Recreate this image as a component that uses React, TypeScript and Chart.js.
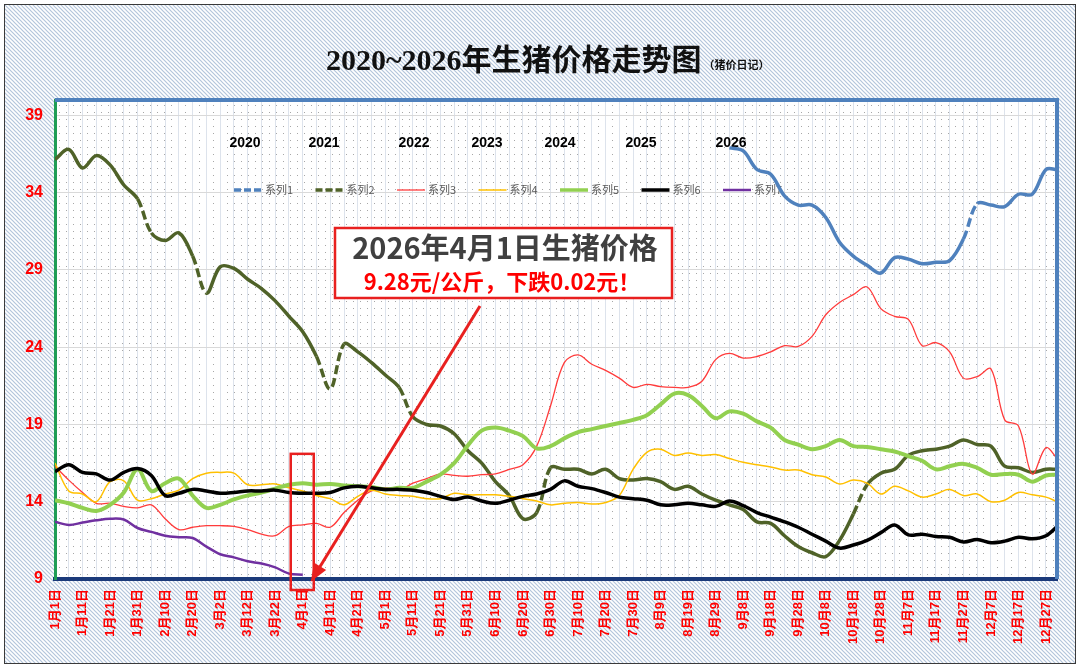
import { useEffect, useRef } from "react";
import { Chart, registerables } from "chart.js";

Chart.register(...registerables);

// x tick labels, one per 10 days
const tickLabels = [
  "1月1日", "1月11日", "1月21日", "1月31日", "2月10日", "2月20日", "3月2日", "3月12日",
  "3月22日", "4月1日", "4月11日", "4月21日", "5月1日", "5月11日", "5月21日", "5月31日",
  "6月10日", "6月20日", "6月30日", "7月10日", "7月20日", "7月30日", "8月9日", "8月19日",
  "8月29日", "9月8日", "9月18日", "9月28日", "10月8日", "10月18日", "10月28日", "11月7日",
  "11月17日", "11月27日", "12月7日", "12月17日", "12月27日",
];
const yTicks = [9, 14, 19, 24, 29, 34, 39];

// day of year of each sample
const days = [
  1, 6, 11, 16, 21, 26, 31, 36, 41, 46, 51, 56, 61, 66, 71, 76, 81, 86, 91, 96,
  101, 106, 111, 116, 121, 126, 131, 136, 141, 146, 151, 156, 161, 166, 171, 176, 181, 186, 191, 196,
  201, 206, 211, 216, 221, 226, 231, 236, 241, 246, 251, 256, 261, 266, 271, 276, 281, 286, 291, 296,
  301, 306, 311, 316, 321, 326, 331, 336, 341, 346, 351, 356, 361, 365,
];
const s1Days = [
  246, 251, 256, 261, 266, 271, 276, 281, 286, 291, 296, 301, 306, 311, 316, 321, 326, 331, 336, 341,
  346, 351, 356, 361, 365,
];

const seriesNames = ["系列1", "系列2", "系列3", "系列4", "系列5", "系列6", "系列7"];
const yearNames = ["2020", "2021", "2022", "2023", "2024", "2025", "2026"];

const s1 = [
  36.9, 36.7, 35.5, 35.2, 33.8, 33.2, 33.2, 32.4, 30.8, 29.9, 29.3, 28.8, 29.8, 29.7, 29.4, 29.5, 29.6,
  31.0, 33.3, 33.2, 33.1, 33.9, 33.9, 35.5, 35.5,
];
const s2 = [
  36.15, 36.8, 35.6, 36.4, 35.8, 34.5, 33.6, 31.4, 30.9, 31.4,
  29.9, 27.5, 29.2, 29.1, 28.4, 27.8, 27.0, 26.0, 25.0, 23.4,
  21.3, 24.2, 23.7, 23.0, 22.2, 21.4, 19.5, 19.0, 18.9, 18.4,
  17.3, 16.5, 15.3, 14.4, 12.9, 13.3, 16.2, 16.1, 16.1, 15.8,
  16.1, 15.5, 15.4, 15.5, 15.3, 14.8, 15.0, 14.5, 14.1, 13.8,
  13.5, 12.7, 12.6, 11.8, 11.1, 10.7, 10.45, 11.5, 13.2, 15.1,
  15.85, 16.1, 17.0, 17.3, 17.4, 17.6, 18.0, 17.7, 17.6, 16.3,
  16.2, 15.9, 16.1, 16.1,
];
const s3 = [
  16.3, 15.4, 14.6, 13.9, 13.9, 13.7, 13.6, 13.8, 12.9, 12.2,
  12.35, 12.45, 12.45, 12.4, 12.2, 11.9, 11.8, 12.4, 12.5, 12.6,
  12.35, 13.3, 14.1, 14.7, 14.9, 14.75, 15.2, 15.5, 15.8, 15.7,
  15.65, 15.75, 15.8, 16.1, 16.4, 17.6, 20.2, 23.0, 23.5, 22.9,
  22.5, 22.0, 21.4, 21.6, 21.45, 21.4, 21.4, 21.8, 23.2, 23.6,
  23.3, 23.4, 23.7, 24.1, 24.05, 24.7, 26.1, 26.9, 27.4, 27.9,
  26.5, 26.0, 25.8, 24.1, 24.3, 23.7, 22.0, 22.1, 22.6, 19.3,
  18.9, 15.8, 17.5, 16.8,
];
const s4 = [
  16.5, 14.7, 14.5, 14.0, 15.3, 15.35, 14.1, 14.2, 14.5, 14.75,
  15.5, 15.85, 15.9, 15.85, 15.1, 15.1, 15.15, 14.9, 14.7, 14.4,
  14.2, 13.8, 14.35, 14.75, 14.5, 14.4, 14.35, 14.2, 14.2, 14.55,
  14.45, 14.45, 14.45, 14.35, 14.2, 14.05, 13.8, 13.9, 13.95, 13.85,
  13.95, 14.4, 16.1, 17.2, 17.4, 17.0, 17.15, 17.0, 17.05, 16.8,
  16.55, 16.4, 16.25, 16.05, 16.05, 15.75, 15.6, 15.15, 15.4, 15.2,
  14.5, 15.0, 14.7, 14.3, 14.5, 14.8, 14.4, 14.5, 14.0, 14.1,
  14.6, 14.45, 14.3, 14.0,
];
const s5 = [
  14.1, 13.9, 13.6, 13.4, 13.8, 14.6, 16.1, 14.7, 15.2, 15.5,
  14.4, 13.6, 13.8, 14.15, 14.4, 14.6, 14.85, 15.1, 15.2, 15.1,
  15.15, 15.05, 15.0, 14.95, 14.8, 14.9, 14.9, 15.3, 15.75, 16.5,
  17.65, 18.6, 18.8, 18.6, 18.25, 17.45, 17.6, 18.1, 18.5, 18.7,
  18.9, 19.1, 19.3, 19.6, 20.3, 21.0, 20.9, 20.2, 19.4, 19.85,
  19.7, 19.2, 18.8, 18.0, 17.7, 17.4, 17.6, 18.0, 17.6, 17.55,
  17.4, 17.25, 16.95, 16.65, 16.1, 16.3, 16.45, 16.2, 15.75, 15.8,
  15.75, 15.3, 15.7, 15.75,
];
const s6 = [
  15.95, 16.4, 15.9, 15.8, 15.4, 15.9, 16.15, 15.7, 14.4, 14.55,
  14.8, 14.7, 14.55, 14.6, 14.7, 14.7, 14.75, 14.6, 14.55, 14.55,
  14.6, 14.9, 15.0, 14.9, 14.8, 14.8, 14.75, 14.6, 14.35, 14.15,
  14.3, 14.05, 13.9, 14.1, 14.35, 14.5, 14.8, 15.35, 15.0, 14.85,
  14.6, 14.3, 14.2, 14.1, 13.8, 13.8, 13.9, 13.8, 13.7, 14.05,
  13.75, 13.3, 13.0, 12.7, 12.35, 11.9, 11.45, 11.0, 11.2, 11.5,
  12.0, 12.5, 11.85, 11.9, 11.75, 11.7, 11.4, 11.55, 11.35, 11.45,
  11.7, 11.6, 11.8, 12.4,
];
const s7 = [
  12.7, 12.5, 12.65, 12.8, 12.9, 12.85, 12.3, 12.05, 11.8, 11.7,
  11.65, 11.1, 10.6, 10.4, 10.15, 10.0, 9.75, 9.35, 9.28,
];

const latestDay = 91;
const latestPrice = 9.28;

const SANS = '"Liberation Sans", "Noto Sans CJK SC", sans-serif';
const CJK = '"Noto Sans CJK SC", "Liberation Sans", sans-serif';

const colors = ["#4f81bd", "#4f6228", "#ff3b3b", "#ffc000", "#92d050", "#000000", "#7030a0"];
const widths = [3.5, 3.5, 1.3, 1.5, 4, 3.5, 2.5];
const dashed = [true, true, false, false, false, false, false];

const toPoints = (xs: number[], ys: number[]) => ys.map((y, i) => ({ x: xs[i], y }));

// Excel restarts the dash per segment, so only long segments show gaps
const longSegDash = (ctx: any) =>
  Math.hypot(ctx.p1.x - ctx.p0.x, ctx.p1.y - ctx.p0.y) > 31 ? [9, 4] : [];

function makeHatch(ctx: CanvasRenderingContext2D) {
  const c = document.createElement("canvas");
  c.width = 4;
  c.height = 4;
  const g = c.getContext("2d")!;
  g.fillStyle = "#ffffff";
  g.fillRect(0, 0, 4, 4);
  g.strokeStyle = "#b3c5db";
  g.lineWidth = 1.2;
  g.beginPath();
  g.moveTo(-1, -1);
  g.lineTo(5, 5);
  g.moveTo(3, -1);
  g.lineTo(5, 1);
  g.moveTo(-1, 3);
  g.lineTo(1, 5);
  g.stroke();
  return ctx.createPattern(c, "repeat");
}

const backdrop = {
  id: "backdrop",
  beforeDraw(chart: Chart) {
    const { ctx, width, height, chartArea: a } = chart;
    ctx.save();
    ctx.fillStyle = "#ffffff";
    ctx.fillRect(0, 0, width, height);
    ctx.fillStyle = makeHatch(ctx) as CanvasPattern;
    ctx.fillRect(4, 4, 1072, 660);
    ctx.strokeStyle = "#3a3a3a";
    ctx.lineWidth = 1;
    ctx.strokeRect(4.5, 4.5, 1071, 659);

    ctx.fillStyle = "#ffffff";
    ctx.fillRect(a.left, a.top, a.right - a.left, a.bottom - a.top);
    ctx.fillStyle = "rgba(80,80,80,0.5)";
    for (let y = a.top + 5; y < a.bottom; y += 7) {
      for (let x = a.left + 4; x < a.right; x += 7) ctx.fillRect(x, y, 1, 1);
    }

    // title
    const main = "2020~2026年生猪价格走势图";
    ctx.fillStyle = "#111111";
    ctx.textBaseline = "middle";
    ctx.textAlign = "left";
    ctx.font = 'bold 30px "Liberation Serif", "Noto Sans CJK SC", serif';
    ctx.fillText(main, 326, 62);
    const w = ctx.measureText(main).width;
    ctx.font = `bold 11px ${CJK}`;
    ctx.fillText("（猪价日记）", 326 + w + 2, 65);
    ctx.restore();
  },
  beforeDatasetsDraw(chart: Chart) {
    const { ctx } = chart;
    ctx.save();
    // year captions
    const yearX = [245, 324, 414, 487, 560, 641, 731];
    ctx.fillStyle = "#000000";
    ctx.font = `bold 14px ${SANS}`;
    ctx.textAlign = "center";
    ctx.textBaseline = "middle";
    yearNames.forEach((t, i) => ctx.fillText(t, yearX[i], 143));

    // legend
    ctx.textAlign = "left";
    ctx.font = `11px ${CJK}`;
    chart.data.datasets.forEach((ds: any, i: number) => {
      const x = 234 + i * 81.5;
      ctx.strokeStyle = ds.borderColor;
      ctx.lineWidth = Math.min(ds.borderWidth, 3.5);
      ctx.setLineDash(dashed[i] ? [7, 3] : []);
      ctx.beginPath();
      ctx.moveTo(x, 190);
      ctx.lineTo(x + 28, 190);
      ctx.stroke();
      ctx.setLineDash([]);
      ctx.fillStyle = "#595959";
      ctx.fillText(ds.label, x + 31, 190);
    });
    ctx.restore();
  },
  afterDraw(chart: Chart) {
    const { ctx, chartArea: a } = chart;
    const xs = chart.scales.x;
    const ys = chart.scales.y;
    ctx.save();
    ctx.strokeStyle = "#4f81bd";
    ctx.lineWidth = 4;
    ctx.beginPath();
    ctx.moveTo(a.left, a.top);
    ctx.lineTo(a.right, a.top);
    ctx.lineTo(a.right, a.bottom);
    ctx.stroke();

    // call-out box
    ctx.fillStyle = "#ffffff";
    ctx.fillRect(335, 228, 337, 70);
    ctx.strokeStyle = "#e8201f";
    ctx.lineWidth = 2.5;
    ctx.strokeRect(335, 228, 337, 70);
    ctx.textAlign = "center";
    ctx.textBaseline = "middle";
    ctx.fillStyle = "#404040";
    ctx.font = `bold 29px ${CJK}`;
    ctx.fillText("2026年4月1日生猪价格", 505, 248);
    ctx.fillStyle = "#ff0000";
    ctx.font = `bold 22px ${CJK}`;
    ctx.fillText("9.28元/公斤，下跌0.02元！", 502, 282);

    // marker around the latest point
    const px = xs.getPixelForValue(latestDay);
    const py = ys.getPixelForValue(latestPrice);
    ctx.strokeStyle = "#e8201f";
    ctx.lineWidth = 2.5;
    const top = ys.getPixelForValue(17.1);
    ctx.strokeRect(px - 12, top, 23, a.bottom + 11 - top);

    // arrow
    const sx = 480, sy = 306;
    const tx = px + 8, ty = py + 7;
    const ang = Math.atan2(ty - sy, tx - sx);
    ctx.lineWidth = 3;
    ctx.beginPath();
    ctx.moveTo(sx, sy);
    ctx.lineTo(tx - 12 * Math.cos(ang), ty - 12 * Math.sin(ang));
    ctx.stroke();
    ctx.fillStyle = "#e8201f";
    ctx.beginPath();
    ctx.moveTo(tx, ty);
    ctx.lineTo(tx - 18 * Math.cos(ang) + 7 * Math.sin(ang), ty - 18 * Math.sin(ang) - 7 * Math.cos(ang));
    ctx.lineTo(tx - 18 * Math.cos(ang) - 7 * Math.sin(ang), ty - 18 * Math.sin(ang) + 7 * Math.cos(ang));
    ctx.closePath();
    ctx.fill();
    ctx.restore();
  },
};

export default function App() {
  const canvasRef = useRef<HTMLCanvasElement>(null);
  const chartRef = useRef<Chart | null>(null);

  useEffect(() => {
    if (!canvasRef.current) return;
    document.body.style.margin = "0";

    const series = [
      toPoints(s1Days, s1),
      toPoints(days, s2),
      toPoints(days, s3),
      toPoints(days, s4),
      toPoints(days, s5),
      toPoints(days, s6),
      toPoints(days, s7),
    ];

    chartRef.current?.destroy();
    chartRef.current = new Chart(canvasRef.current, {
      type: "line",
      data: {
        datasets: series.map((data, i) => ({
          label: seriesNames[i],
          data,
          borderColor: colors[i],
          backgroundColor: colors[i],
          borderWidth: widths[i],
          pointRadius: 0,
          tension: 0.35,
          fill: false,
          order: -i,
          segment: dashed[i] ? { borderDash: longSegDash } : undefined,
        })),
      },
      options: {
        animation: false,
        responsive: true,
        maintainAspectRatio: false,
        layout: { padding: { top: 100, right: 23, bottom: 0, left: 0 } },
        plugins: {
          legend: { display: false },
          title: { display: false },
          tooltip: { enabled: false },
        },
        scales: {
          x: {
            type: "linear",
            min: 1,
            max: 365,
            afterBuildTicks: (s: any) => {
              s.ticks = tickLabels.flatMap((_, i) =>
                i < tickLabels.length - 1 ? [{ value: 1 + i * 10 }, { value: 6 + i * 10 }] : [{ value: 1 + i * 10 }]
              );
            },
            afterFit: (s: any) => {
              s.height = 91;
            },
            grid: { color: "#dde3ec", lineWidth: 1, drawTicks: false },
            border: { color: "#1b3a7a", width: 4 },
            ticks: {
              autoSkip: false,
              minRotation: 90,
              maxRotation: 90,
              padding: 10,
              color: "#ff0000",
              font: { family: SANS, size: 13, weight: "bold" },
              callback: (v: any) => {
                const i = (Number(v) - 1) / 10;
                return Number.isInteger(i) ? tickLabels[i] ?? "" : "";
              },
            },
          },
          y: {
            min: 9,
            max: 40,
            afterBuildTicks: (s: any) => {
              s.ticks = yTicks.map((v) => ({ value: v }));
            },
            afterFit: (s: any) => {
              s.width = 55;
            },
            grid: { color: "#d9d9d9", drawTicks: false },
            border: { color: "#1f9d55", width: 3 },
            ticks: {
              color: "#ff0000",
              padding: 12,
              font: { family: SANS, size: 16, weight: "bold" },
            },
          },
        },
      },
      plugins: [backdrop],
    });

    return () => {
      chartRef.current?.destroy();
      chartRef.current = null;
    };
  }, []);

  return (
    <div style={{ position: "relative", width: "1080px", height: "670px" }}>
      <canvas ref={canvasRef} />
    </div>
  );
}
